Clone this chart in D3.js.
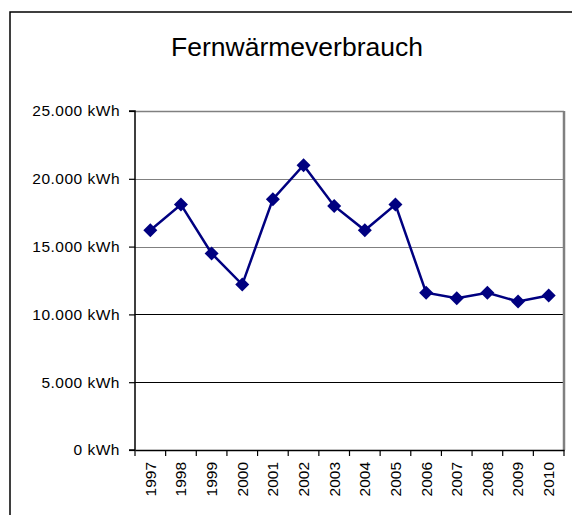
<!DOCTYPE html>
<html><head><meta charset="utf-8">
<script src="https://cdn.jsdelivr.net/npm/d3@7"></script>
<style>body{margin:0;background:#fff}svg{display:block}text{font-family:"Liberation Sans",Arial,sans-serif}</style>
</head><body>
<svg id="c" width="572" height="515"></svg>
<script>
const title = "Fernwärmeverbrauch";
const years = ["1997","1998","1999","2000","2001","2002","2003","2004","2005","2006","2007","2008","2009","2010"];
const values = [16200,18100,14500,12200,18500,21000,18000,16200,18100,11600,11200,11600,10950,11400];
const yTicks = [0,5000,10000,15000,20000,25000];

const svg = d3.select("#c");
const m = {l:135, t:111, r:564, b:450};
const x = d3.scaleBand().domain(years).range([m.l, m.r]);
const y = d3.scaleLinear().domain([0,25000]).range([m.b, m.t]);
const fmt = v => d3.format(",")(v).replace(/,/g, ".") + " kWh";

// outer frame
svg.append("rect").attr("x",10).attr("y",12).attr("width",600).attr("height",600)
  .attr("fill","none").attr("stroke","#000").attr("stroke-width",1.5);

svg.append("text").attr("x",297).attr("y",56).attr("text-anchor","middle")
  .attr("font-size","26.5px").attr("fill","#000").text(title);

// gridlines
svg.append("g").selectAll("line").data(yTicks.filter(d=>d>0 && d<25000)).join("line")
  .attr("x1",m.l).attr("x2",m.r).attr("y1",d=>Math.round(y(d))+0.5).attr("y2",d=>Math.round(y(d))+0.5)
  .attr("stroke",d=>d>=15000?"#808080":"#000").attr("stroke-width",1.2);

// plot border top/right
svg.append("line").attr("x1",m.l).attr("x2",m.r).attr("y1",m.t+0.5).attr("y2",m.t+0.5).attr("stroke","#808080").attr("stroke-width",1.5);
svg.append("line").attr("x1",m.r).attr("x2",m.r).attr("y1",m.t).attr("y2",m.b).attr("stroke","#808080").attr("stroke-width",2.5);

// y axis
const ya = svg.append("g").attr("transform",`translate(${m.l},0)`)
  .call(d3.axisLeft(y).tickValues(yTicks).tickFormat(fmt).tickSize(6).tickPadding(9));
ya.select(".domain").attr("stroke","#000").attr("stroke-width",1.5).attr("d",`M-6,${m.t}H0V${m.b}H-6`);
ya.selectAll(".tick line").attr("stroke","#000").attr("stroke-width",1.2);
ya.selectAll(".tick text").attr("font-size","15.5px").attr("letter-spacing","0.5px").attr("fill","#000").attr("font-family",null);

// x axis
const xa = svg.append("g").attr("transform",`translate(0,${m.b})`)
  .call(d3.axisBottom(x).tickSize(0).tickSizeOuter(0));
xa.select(".domain").attr("stroke","#000").attr("stroke-width",1.5);
xa.selectAll(".tick text").attr("font-size","15.5px").attr("fill","#000").attr("font-family",null)
  .attr("transform","rotate(-90)").attr("text-anchor","end").attr("dy","0.35em").attr("x",-12).attr("y",0);
// category boundary ticks
xa.append("g").selectAll("line").data(years.concat(["end"])).join("line")
  .attr("x1",(d,i)=>m.l + i*x.step()).attr("x2",(d,i)=>m.l + i*x.step())
  .attr("y1",0).attr("y2",6).attr("stroke","#000").attr("stroke-width",1.2);

// series
const cx = d => x(d) + x.bandwidth()/2;
svg.append("path").datum(values)
  .attr("d", d3.line().x((d,i)=>cx(years[i])).y(d=>y(d)))
  .attr("fill","none").attr("stroke","#000080").attr("stroke-width",2.5);
svg.append("g").selectAll("path").data(values).join("path")
  .attr("transform",(d,i)=>`translate(${cx(years[i])},${y(d)})`)
  .attr("d","M0,-7L7,0L0,7L-7,0Z").attr("fill","#000080");
</script>
</body></html>
